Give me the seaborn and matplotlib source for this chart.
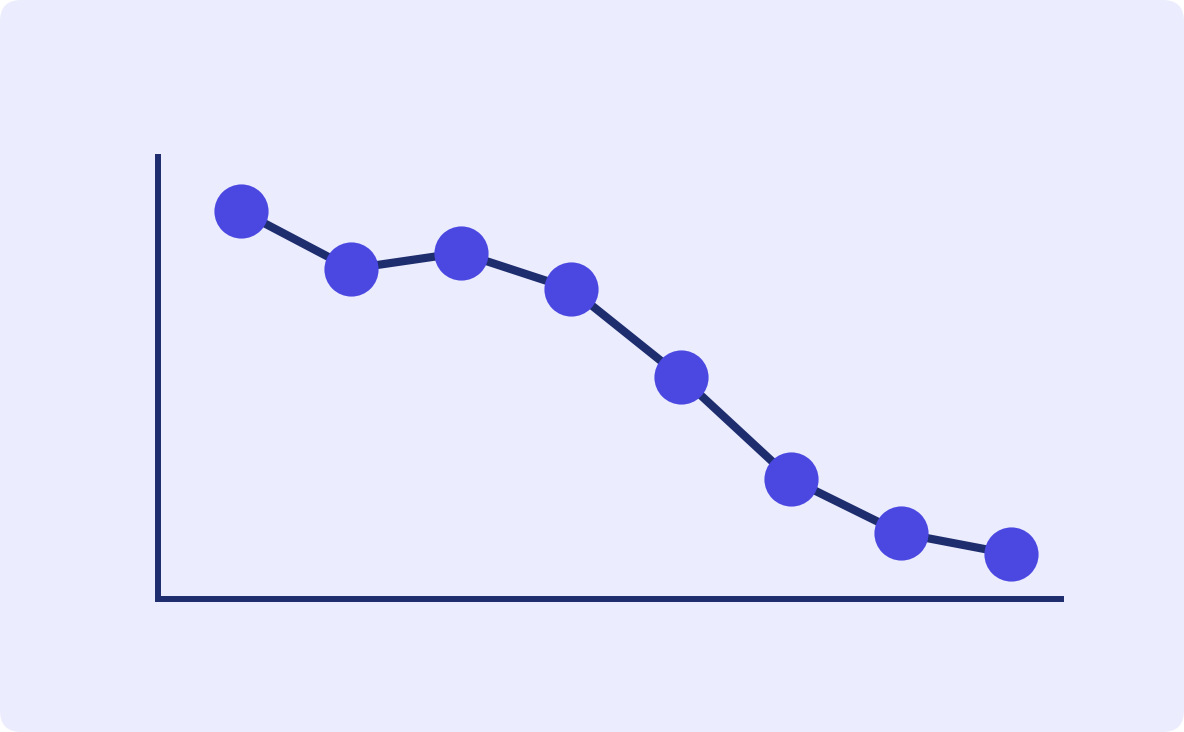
import matplotlib
matplotlib.use('Agg')
import matplotlib.pyplot as plt
import seaborn as sns
import pandas as pd
from matplotlib.patches import FancyBboxPatch

# data (y scaled 0..100 over the axis height)
steps = [1, 2, 3, 4, 5, 6, 7, 8]
values = [87.2, 74.2, 77.8, 69.7, 49.9, 27.0, 14.8, 10.1]

df = pd.DataFrame({'step': steps, 'value': values})

W, H = 1184, 732
fig = plt.figure(figsize=(W / 100, H / 100), dpi=100)
fig.patch.set_facecolor('white')

# rounded card background, kept under the axes
card = FancyBboxPatch((0, 0), 1, 1, boxstyle='round,pad=0,rounding_size=0.018',
                      transform=fig.transFigure, facecolor='#EBECFD',
                      edgecolor='none', mutation_aspect=W / H, zorder=-10)
fig.patches.append(card)

left, right, top, bottom = 158, 1061, 154, 599
ax = fig.add_axes([left / W, (H - bottom) / H, (right - left) / W, (bottom - top) / H])
ax.set_facecolor('none')
ax.set_zorder(5)

sns.lineplot(data=df, x='step', y='value', ax=ax, color='#1E2D6E', linewidth=5.9,
             marker='o', markersize=39, markerfacecolor='#4B48E2',
             markeredgecolor='#4B48E2', markeredgewidth=0, clip_on=False)

# x: point 1 sits 83px right of the axis, spacing 110px
ax.set_xlim(1 - 83 / 110, 1 + (right - 241) / 110)
ax.set_ylim(0, 100)

for s in ['top', 'right']:
    ax.spines[s].set_visible(False)
for s in ['left', 'bottom']:
    ax.spines[s].set_color('#1E2D6E')
    ax.spines[s].set_linewidth(4.3)
ax.spines['left'].set_capstyle('butt')
ax.spines['bottom'].set_capstyle('projecting')
ax.set_xticks([])
ax.set_yticks([])
ax.set_xlabel('')
ax.set_ylabel('')

plt.savefig('out.png', dpi=100)
plt.close()
